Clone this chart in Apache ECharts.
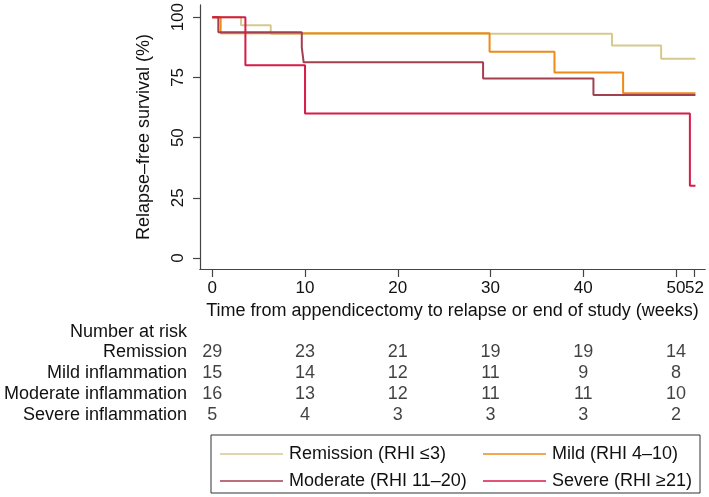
<!DOCTYPE html>
<html>
<head>
<meta charset="utf-8">
<script src="https://cdn.jsdelivr.net/npm/echarts@6/dist/echarts.min.js"></script>
<style>
html,body{margin:0;padding:0;background:#fff;}
#chart{width:709px;height:497px;}
</style>
</head>
<body>
<div id="chart"></div>
<script>
// ---- Kaplan–Meier step data (time in weeks, survival in %) ----
const remissionTime = [0, 3.1, 6.3, 43.1, 48.4, 52.1];
const remissionSurv = [100, 96.6, 93.1, 88.2, 82.7, 82.7];
const mildTime = [0, 0.9, 29.9, 36.9, 44.3, 52.1];
const mildSurv = [100, 93.3, 85.6, 77.0, 68.4, 68.4];
const moderateTime = [0, 0.65, 9.65, 9.85, 29.2, 41.1, 52.1];
const moderateSurv = [100, 93.75, 87.5, 81.25, 74.5, 67.7, 67.7];
const severeTime = [0, 3.57, 10.0, 51.5, 52.1];
const severeSurv = [100, 80, 60, 30, 30];

const seriesNames = ['Remission (RHI \u22643)', 'Mild (RHI 4\u201310)', 'Moderate (RHI 11\u201320)', 'Severe (RHI \u226521)'];

// ---- axis ticks ----
const xTicksMain = [0, 10, 20, 30, 40, 50];
const xTicksEnd = [52];
const yTicks = [0, 25, 50, 75, 100];

// ---- number at risk table ----
const riskTimes = [0, 10, 20, 30, 40, 50];
const rowLabels = ['Number at risk', 'Remission', 'Mild inflammation', 'Moderate inflammation', 'Severe inflammation'];
const riskRemission = [29, 23, 21, 19, 19, 14];
const riskMild = [15, 14, 12, 11, 9, 8];
const riskModerate = [16, 13, 12, 11, 11, 10];
const riskSevere = [5, 4, 3, 3, 3, 2];

const colors = ['#d5c98e', '#ee8a16', '#a3404f', '#d81b47'];
const FONT = '"Liberation Sans", Arial, Helvetica, sans-serif';
const TXT = '#111';
const AXC = '#444';

function pairs(t, s) { return t.map((v, i) => [v, s[i]]); }

const riskRows = [riskRemission, riskMild, riskModerate, riskSevere];
const riskData = [];
riskRows.forEach((row, r) => {
  row.forEach((n, i) => riskData.push([riskTimes[i], rowLabels[r + 1], n]));
});

const XMIN = -1.326, XMAX = 53.13;

const chart = echarts.init(document.getElementById('chart'), null, {renderer: 'canvas'});
const kmSeries = [
  [remissionTime, remissionSurv],
  [mildTime, mildSurv],
  [moderateTime, moderateSurv],
  [severeTime, severeSurv]
].map((d, i) => ({
  name: seriesNames[i],
  type: 'line',
  step: 'end',
  xAxisIndex: 0,
  yAxisIndex: 0,
  symbol: 'none',
  data: pairs(d[0], d[1]),
  lineStyle: {color: colors[i], width: 2},
  itemStyle: {color: colors[i]},
  z: 2 + i
}));

const legendCommon = {
  orient: 'vertical', top: 439, height: 80,
  icon: 'rect', itemWidth: 63, itemHeight: 1.5, itemGap: 7,
  textStyle: {fontSize: 18, color: TXT, fontFamily: FONT, lineHeight: 20, padding: [0, 0, 0, 1]}
};

function xTickAxis(ticks, extra) {
  return Object.assign({
    type: 'value', gridIndex: 0, min: XMIN, max: XMAX, position: 'bottom', offset: 0,
    axisLine: {show: true, onZero: false, lineStyle: {color: AXC, width: 1.2}},
    axisTick: {show: true, length: 8, customValues: ticks, lineStyle: {color: AXC, width: 1.2}},
    axisLabel: {customValues: ticks, fontSize: 17, color: TXT, margin: 11, fontFamily: FONT,
      hideOverlap: false, showMinLabel: true, showMaxLabel: true},
    splitLine: {show: false}
  }, extra || {});
}

chart.setOption({
  animation: false,
  backgroundColor: '#fff',
  textStyle: {fontFamily: FONT, color: TXT},
  grid: [
    {left: 200, right: 4, top: 3, bottom: 228, containLabel: false},
    {left: 200, right: 4, top: 321.3, height: 104, containLabel: false}
  ],
  xAxis: [
    xTickAxis(xTicksMain, {
      name: 'Time from appendicectomy to relapse or end of study (weeks)',
      nameLocation: 'middle', nameGap: 29,
      nameTextStyle: {fontSize: 18, color: TXT, fontFamily: FONT}
    }),
    {
      type: 'value', gridIndex: 1, min: XMIN, max: XMAX,
      axisLine: {show: false}, axisTick: {show: false}, axisLabel: {show: false}, splitLine: {show: false}
    },
    xTickAxis(xTicksEnd)
  ],
  yAxis: [
    {
      type: 'value', gridIndex: 0, min: -4.53, max: 105.07,
      name: 'Relapse\u2013free survival (%)',
      nameLocation: 'middle', nameGap: 47,
      nameTextStyle: {fontSize: 18, color: TXT, fontFamily: FONT},
      axisLine: {show: true, onZero: false, lineStyle: {color: AXC, width: 1.2}},
      axisTick: {show: true, length: 7, customValues: yTicks, lineStyle: {color: AXC, width: 1.2}},
      axisLabel: {customValues: yTicks, rotate: 90, fontSize: 17, color: TXT, margin: 13, fontFamily: FONT,
        showMinLabel: true, showMaxLabel: true},
      splitLine: {show: false}
    },
    {
      type: 'category', gridIndex: 1, inverse: true, data: rowLabels,
      axisLine: {show: false}, axisTick: {show: false}, splitLine: {show: false},
      axisLabel: {interval: 0, fontSize: 18, color: TXT, margin: 13, fontFamily: FONT,
        showMinLabel: true, showMaxLabel: true}
    }
  ],
  legend: [
    Object.assign({data: [seriesNames[0], seriesNames[2]], left: 215}, legendCommon),
    Object.assign({data: [seriesNames[1], seriesNames[3]], left: 478}, legendCommon)
  ],
  graphic: [
    {type: 'rect', shape: {x: 211, y: 435, width: 489, height: 58}, style: {fill: 'none', stroke: '#333', lineWidth: 1}, silent: true}
  ],
  series: kmSeries.concat([
    {
      type: 'scatter', xAxisIndex: 1, yAxisIndex: 1,
      data: riskData, symbolSize: 1,
      itemStyle: {color: 'rgba(0,0,0,0)'},
      label: {show: true, position: 'inside', formatter: p => String(p.value[2]), fontSize: 18, color: TXT, fontFamily: FONT},
      silent: true
    }
  ])
});
</script>
</body>
</html>
